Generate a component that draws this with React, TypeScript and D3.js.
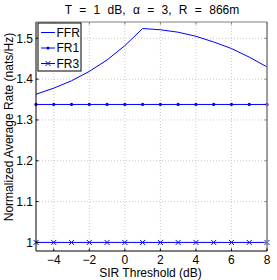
import React from 'react';
import * as d3 from 'd3';

// Data
const thresholds = [-5, -4, -3, -2, -1, 0, 1, 2, 3, 4, 5, 6, 7, 8];
const ffr = [1.363, 1.378, 1.396, 1.419, 1.447, 1.482, 1.524, 1.521, 1.515, 1.505, 1.491, 1.475, 1.454, 1.43];
const fr1 = [1.338, 1.338, 1.338, 1.338, 1.338, 1.338, 1.338, 1.338, 1.338, 1.338, 1.338, 1.338, 1.338, 1.338];
const fr3 = [1, 1, 1, 1, 1, 1, 1, 1, 1, 1, 1, 1, 1, 1];
const xTicks = [-4, -2, 0, 2, 4, 6, 8];
const yTicks = [1, 1.1, 1.2, 1.3, 1.4, 1.5];
const seriesNames = ['FFR', 'FR1', 'FR3'];

const width = 277;
const height = 280;
const margin = { top: 22, right: 10, bottom: 29, left: 36 };
const blue = '#0000ff';
const font = 'Liberation Sans, Arial, sans-serif';

const App = () => {
  const innerW = width - margin.left - margin.right;
  const innerH = height - margin.top - margin.bottom;

  const x = d3.scaleLinear().domain([-5, 8]).range([0, innerW]);
  const y = d3.scaleLinear().domain([0.979, 1.54]).range([innerH, 0]);

  const line = d3
    .line<number>()
    .x((d, i) => x(thresholds[i]))
    .y((d) => y(d));

  // little cross marker for FR3
  const cross = (cx: number, cy: number) =>
    `M${cx - 2.5},${cy - 2.5}L${cx + 2.5},${cy + 2.5}M${cx - 2.5},${cy + 2.5}L${cx + 2.5},${cy - 2.5}`;

  return (
    <svg width={width} height={height} style={{ position: 'absolute', left: 0, top: 0, fontFamily: font }}>
      <rect width={width} height={height} fill="white" />
      <text x={152} y={14} textAnchor="middle" fontSize={12} wordSpacing={4}>
        T = 1 dB, α = 3, R = 866m
      </text>
      <g transform={`translate(${margin.left},${margin.top})`}>
        {/* grid */}
        {xTicks.map((t) => (
          <line key={'gx' + t} x1={x(t)} x2={x(t)} y1={0} y2={innerH} stroke="#c8c8c8" strokeDasharray="1,2" />
        ))}
        {yTicks.map((t) => (
          <line key={'gy' + t} x1={0} x2={innerW} y1={y(t)} y2={y(t)} stroke="#c8c8c8" strokeDasharray="1,2" />
        ))}

        {/* series */}
        <path d={line(ffr) || ''} fill="none" stroke={blue} strokeWidth={1} />
        <path d={line(fr1) || ''} fill="none" stroke={blue} strokeWidth={1} />
        {fr1.map((v, i) => (
          <circle key={'m1' + i} cx={x(thresholds[i])} cy={y(v)} r={1.6} fill={blue} />
        ))}
        <path d={line(fr3) || ''} fill="none" stroke={blue} strokeWidth={1} />
        {fr3.map((v, i) => (
          <path key={'m3' + i} d={cross(x(thresholds[i]), y(v))} stroke={blue} strokeWidth={1} fill="none" />
        ))}

        {/* box */}
        <line x1={0} x2={innerW} y1={0} y2={0} stroke="#808080" strokeWidth={1} />
        <line x1={innerW} x2={innerW} y1={0} y2={innerH} stroke="#808080" strokeWidth={1.5} />
        <line x1={0} x2={0} y1={0} y2={innerH} stroke="black" strokeWidth={1} />
        <line x1={0} x2={innerW} y1={innerH} y2={innerH} stroke="black" strokeWidth={1} />

        {/* ticks */}
        {xTicks.map((t) => (
          <g key={'tx' + t}>
            <line x1={x(t)} x2={x(t)} y1={innerH} y2={innerH - 2.5} stroke="black" />
            <line x1={x(t)} x2={x(t)} y1={0} y2={2.5} stroke="#808080" />
            <text x={x(t)} y={innerH + 12.5} textAnchor="middle" fontSize={12}>
              {t < 0 ? '\u2212' + Math.abs(t) : t}
            </text>
          </g>
        ))}
        {yTicks.map((t) => (
          <g key={'ty' + t}>
            <line x1={0} x2={2.5} y1={y(t)} y2={y(t)} stroke="black" />
            <line x1={innerW} x2={innerW - 2.5} y1={y(t)} y2={y(t)} stroke="#808080" />
            <text x={-3} y={y(t) + 4.3} textAnchor="end" fontSize={12}>
              {t === 1 ? '1' : d3.format('.1f')(t)}
            </text>
          </g>
        ))}

        {/* axis labels */}
        <text x={innerW / 2 - 1} y={innerH + 26} textAnchor="middle" fontSize={12}>
          SIR Threshold (dB)
        </text>
        <text transform={`translate(${-23.5},${innerH / 2 - 9.5}) rotate(-90)`} textAnchor="middle" fontSize={12}>
          Normalized Average Rate (nats/Hz)
        </text>

        {/* legend */}
        <g transform="translate(2,1)">
          <rect x={0} y={0} width={43} height={48} fill="white" stroke="black" strokeWidth={1} />
          {seriesNames.map((name, i) => {
            const ly = 9.5 + i * 15.5;
            return (
              <g key={name}>
                <line x1={3} x2={17} y1={ly} y2={ly} stroke={blue} />
                {i === 1 && <circle cx={10} cy={ly} r={1.6} fill={blue} />}
                {i === 2 && <path d={cross(10, ly)} stroke={blue} fill="none" />}
                <text x={18.5} y={ly + 4.3} fontSize={12}>
                  {name}
                </text>
              </g>
            );
          })}
        </g>
      </g>
    </svg>
  );
};

export default App;
